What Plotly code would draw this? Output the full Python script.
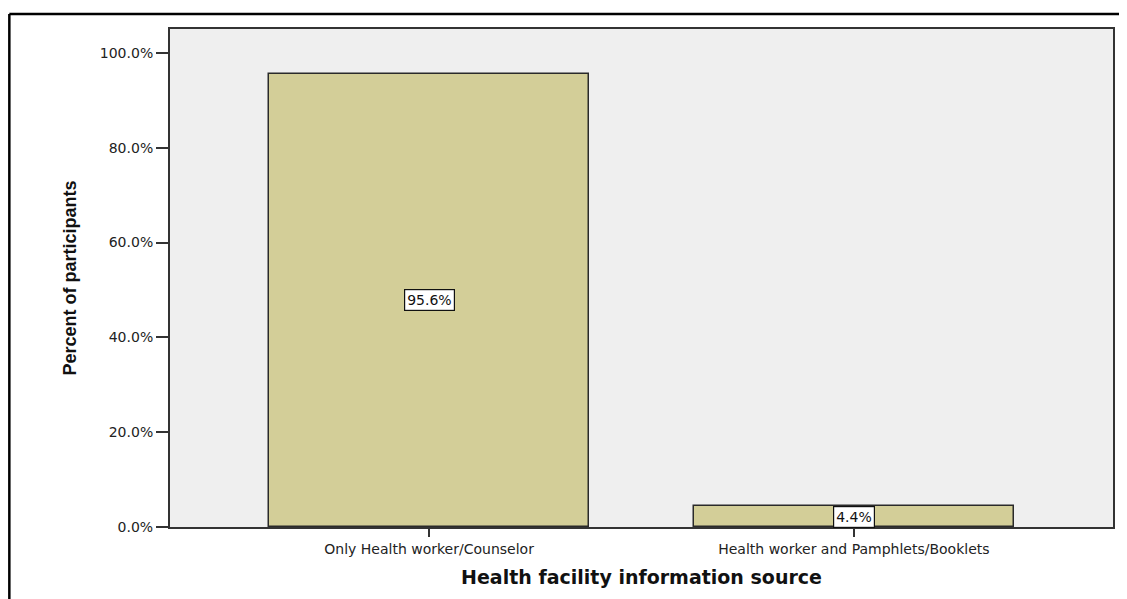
import plotly.graph_objects as go

categories = ["Only Health worker/Counselor", "Health worker and Pamphlets/Booklets"]
percents = [95.6, 4.4]
y_ticks = [0, 20, 40, 60, 80, 100]
y_tick_labels = ["0.0%", "20.0%", "40.0%", "60.0%", "80.0%", "100.0%"]
bar_labels = ["95.6%", "4.4%"]

# page body has an 8px margin, so the figure starts at (8, 8)
W, H = 1119, 591
L, R, T, B = 162, 12, 21, 72
pw, ph = W - L - R, H - T - B

def px_x(p):
    return (p - L) / pw

def px_y(p):
    return (H - B - p) / ph

fig = go.Figure()
fig.add_trace(go.Bar(
    x=categories, y=percents,
    width=0.753,
    marker=dict(color="#D3CE98", line=dict(color="#2a2a2a", width=1.5)),
    hoverinfo="skip",
))

for c, v, t in zip(categories, percents, bar_labels):
    fig.add_annotation(
        x=c, y=v / 2, text=t, showarrow=False,
        xref="x", yref="y",
        font=dict(family="DejaVu Sans", size=14, color="#111"),
        bgcolor="white", bordercolor="#111", borderwidth=1.2, borderpad=2,
    )

# outer frame (top and left edges)
fig.add_shape(type="line", xref="paper", yref="paper",
              x0=px_x(1), x1=px_x(W + 5), y0=px_y(6), y1=px_y(6),
              line=dict(color="black", width=2.5))
fig.add_shape(type="line", xref="paper", yref="paper",
              x0=px_x(1), x1=px_x(1), y0=px_y(6), y1=px_y(H + 5),
              line=dict(color="black", width=2.5))

fig.update_layout(
    width=W, height=H,
    margin=dict(l=L, r=R, t=T, b=B),
    paper_bgcolor="white",
    plot_bgcolor="#EFEFEF",
    showlegend=False,
    bargap=0,
    xaxis=dict(
        type="category",
        range=[-0.61, 1.61],
        showgrid=False,
        showline=True, mirror=True, linecolor="#333", linewidth=2,
        ticks="outside", ticklen=8, tickcolor="#333", tickwidth=1.5,
        tickfont=dict(family="DejaVu Sans", size=14, color="#222"),
        title=dict(text="<b>Health facility information source</b>",
                   font=dict(family="DejaVu Sans", size=19, color="#111"),
                   standoff=15),
        fixedrange=True,
    ),
    yaxis=dict(
        range=[0, 105.06],
        tickvals=y_ticks, ticktext=y_tick_labels,
        showgrid=False, zeroline=False,
        showline=True, mirror=True, linecolor="#333", linewidth=2,
        ticks="outside", ticklen=12, tickcolor="#333", tickwidth=1.5,
        tickfont=dict(family="DejaVu Sans", size=14, color="#222"),
        title=dict(text="<b>Percent of participants</b>",
                   font=dict(family="Liberation Sans Narrow, Liberation Sans, Arial Narrow", size=18, color="#111"),
                   standoff=19),
        fixedrange=True,
    ),
)

fig.write_html("out.html")
